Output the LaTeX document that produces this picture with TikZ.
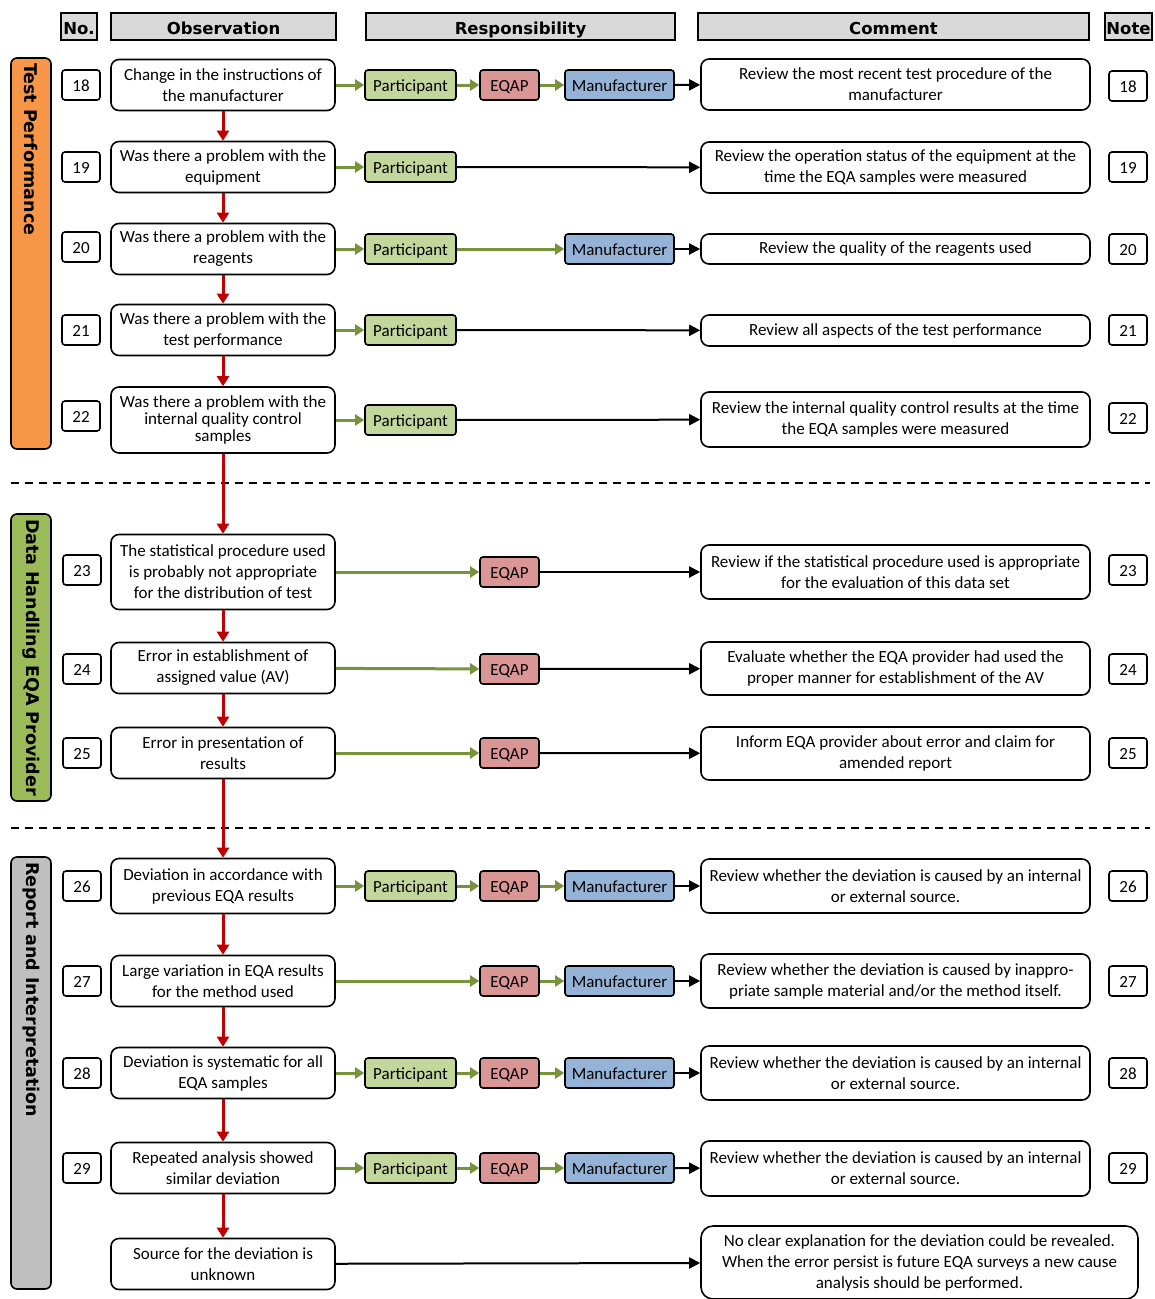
\documentclass[tikz,border=0pt]{standalone}
\usepackage{fontspec}
\setmainfont{Carlito}
\newfontfamily\headfont{DejaVu Sans}
\usetikzlibrary{arrows.meta,positioning}
\definecolor{hgray}{RGB}{217,217,217}
\definecolor{qorange}{RGB}{247,150,70}
\definecolor{qside}{RGB}{155,187,89}
\definecolor{qgray}{RGB}{191,191,191}
\definecolor{qpart}{RGB}{195,214,155}
\definecolor{qeqap}{RGB}{218,150,148}
\definecolor{qmanu}{RGB}{149,179,215}
\definecolor{qred}{RGB}{192,0,0}
\definecolor{qgrn}{RGB}{119,147,60}

\begin{document}
\begin{tikzpicture}[x=1pt, y=-1pt,
    head/.style={draw, fill=hgray, line width=2pt, minimum height=27, inner sep=0pt,
                 text height=15pt, text depth=0pt,
                 font=\headfont\bfseries\fontsize{16.5}{18}\selectfont},
    side/.style={draw, rounded corners=6pt, line width=1.6pt, rotate=-90, minimum height=40,
                 inner sep=5pt, align=left, font=\headfont\bfseries\fontsize{17.5}{20}\selectfont},
    obs/.style={draw, rounded corners=8pt, line width=1.6pt, minimum width=224, minimum height=51,
                align=center, inner sep=2pt, font=\fontsize{17}{21}\selectfont},
    com/.style={obs, minimum width=389},
    num/.style={draw, rounded corners=3pt, line width=1.6pt, minimum width=38, minimum height=30,
                inner sep=0pt, text height=12pt, text depth=0pt, font=\fontsize{17}{18}\selectfont},
    resp/.style={draw, rounded corners=3pt, line width=1.6pt, minimum height=30, inner sep=0pt,
                 text height=12pt, text depth=0pt, font=\fontsize{17}{18}\selectfont},
    part/.style={resp, fill=qpart, minimum width=91},
    eqap/.style={resp, fill=qeqap, minimum width=59},
    manu/.style={resp, fill=qmanu, minimum width=109},
    redarr/.style={-{Triangle[length=10pt,width=12pt]}, line width=3pt, draw=qred},
    grnarr/.style={-{Triangle[length=9pt,width=11pt]}, line width=3pt, draw=qgrn},
    blkarr/.style={-{Triangle[length=11pt,width=11pt]}, line width=2pt},
    sep/.style={line width=2pt, dash pattern=on 8pt off 6pt}
]
\useasboundingbox (0,0) rectangle (1155,1299);

% headers
\node[head, minimum width=36] (hno) at (79,26.5) {No.};
\node[head, minimum width=225] (hobs) at (223.5,26.5) {Observation};
\node[head, minimum width=309] (hresp) at (520.5,26.5) {Responsibility};
\node[head, minimum width=391] (hcom) at (893.5,26.5) {Comment};
\node[head, minimum width=47] (hnote) at (1128.5,26.5) {Note};

% side bars
\node[side, fill=qorange, text width=381] (test) at (31,253.5) {Test Performance};
\node[side, fill=qside, text width=277] (data) at (31,657.5) {Data Handling EQA Provider};
\node[side, fill=qgray, text width=422] (report) at (31,1073) {Report and Interpretation};

\draw[sep] (11,483) -- (1150,483);
\draw[sep] (11,828) -- (1150,828);

% observations
\node[obs] (obs18) at (223,85) {Change in the instructions of\\the manufacturer};
\node[obs] (obs19) at (223,167) {Was there a problem with the\\equipment};
\node[obs] (obs20) at (223,249) {Was there a problem with the\\reagents};
\node[obs] (obs21) at (223,330) {Was there a problem with the\\test performance};
\node[obs, minimum height=66] (obs22) at (223,420)
    {Was there a problem with the\\[-4pt]internal quality control\\[-4pt]samples};
\node[obs, minimum height=75] (obs23) at (223,572)
    {The statistical procedure used\\is probably not appropriate\\for the distribution of test};
\node[obs] (obs24) at (223,668) {Error in establishment of\\assigned value (AV)};
\node[obs] (obs25) at (223,753) {Error in presentation of\\results};
\node[obs, minimum height=55] (obs26) at (223,886) {Deviation in accordance with\\previous EQA results};
\node[obs] (obs27) at (223,981) {Large variation in EQA results\\for the method used};
\node[obs] (obs28) at (223,1073) {Deviation is systematic for all\\EQA samples};
\node[obs] (obs29) at (223,1168) {Repeated analysis showed\\similar deviation};
\node[obs] (obs30) at (223,1264) {Source for the deviation is\\unknown};

% numbers
\node[num] (num18) at (81,85) {18};
\node[num] (num19) at (81,167) {19};
\node[num] (num20) at (81,247) {20};
\node[num] (num21) at (81,330) {21};
\node[num] (num22) at (81,416) {22};
\node[num] (num23) at (82,570) {23};
\node[num] (num24) at (82,669) {24};
\node[num] (num25) at (82,753) {25};
\node[num] (num26) at (82,886) {26};
\node[num] (num27) at (82,981) {27};
\node[num] (num28) at (82,1073) {28};
\node[num] (num29) at (82,1168) {29};

\node[num] (note18) at (1128,86) {18};
\node[num] (note19) at (1128,167) {19};
\node[num] (note20) at (1128,249) {20};
\node[num] (note21) at (1128,330) {21};
\node[num] (note22) at (1128,418) {22};
\node[num] (note23) at (1128,570) {23};
\node[num] (note24) at (1128,669) {24};
\node[num] (note25) at (1128,753) {25};
\node[num] (note26) at (1128,886) {26};
\node[num] (note27) at (1128,981) {27};
\node[num] (note28) at (1128,1073) {28};
\node[num] (note29) at (1128,1168) {29};

% responsibility
\node[part] (part18) at (410.5,85) {Participant};
\node[eqap] (eqap18) at (509.5,85) {EQAP};
\node[manu] (manu18) at (619.5,85) {Manufacturer};
\node[part] (part19) at (410.5,167) {Participant};
\node[part] (part20) at (410.5,249) {Participant};
\node[manu] (manu20) at (619.5,249) {Manufacturer};
\node[part] (part21) at (410.5,330) {Participant};
\node[part] (part22) at (410.5,420) {Participant};
\node[eqap] (eqap23) at (509.5,572) {EQAP};
\node[eqap] (eqap24) at (509.5,669) {EQAP};
\node[eqap] (eqap25) at (509.5,753) {EQAP};
\node[part] (part26) at (410.5,886) {Participant};
\node[eqap] (eqap26) at (509.5,886) {EQAP};
\node[manu] (manu26) at (619.5,886) {Manufacturer};
\node[eqap] (eqap27) at (509.5,981) {EQAP};
\node[manu] (manu27) at (619.5,981) {Manufacturer};
\node[part] (part28) at (410.5,1073) {Participant};
\node[eqap] (eqap28) at (509.5,1073) {EQAP};
\node[manu] (manu28) at (619.5,1073) {Manufacturer};
\node[part] (part29) at (410.5,1168) {Participant};
\node[eqap] (eqap29) at (509.5,1168) {EQAP};
\node[manu] (manu29) at (619.5,1168) {Manufacturer};

% comments
\node[com] (com18) at (895.5,84.5) {Review the most recent test procedure of the\\manufacturer};
\node[com] (com19) at (895.5,167.5) {Review the operation status of the equipment at the\\time the EQA samples were measured};
\node[com, minimum height=30] (com20) at (895.5,249) {Review the quality of the reagents used};
\node[com, minimum height=31] (com21) at (895.5,330.5) {Review all aspects of the test performance};
\node[com, minimum height=55] (com22) at (895.5,419.5) {Review the internal quality control results at the time\\the EQA samples were measured};
\node[com, minimum height=54] (com23) at (895.5,572) {Review if the statistical procedure used is appropriate\\for the evaluation of this data set};
\node[com, minimum height=53] (com24) at (895.5,668.5) {Evaluate whether the EQA provider had used the\\proper manner for establishment of the AV};
\node[com, minimum height=53] (com25) at (895.5,753.5) {Inform EQA provider about error and claim for\\amended report};
\node[com, minimum height=54] (com26) at (895.5,886) {Review whether the deviation is caused by an internal\\or external source.};
\node[com, minimum height=54] (com27) at (895.5,981) {Review whether the deviation is caused by inappro-\\priate sample material and/or the method itself.};
\node[com, minimum height=54] (com28) at (895.5,1073) {Review whether the deviation is caused by an internal\\or external source.};
\node[com, minimum height=55] (com29) at (895.5,1168.5) {Review whether the deviation is caused by an internal\\or external source.};
\node[com, minimum width=437, minimum height=73, rounded corners=12pt] (com30) at (919.5,1262.5)
    {No clear explanation for the deviation could be revealed.\\When the error persist is future EQA surveys a new cause\\analysis should be performed.};

% red flow
\draw[redarr] (obs18) -- (obs19);
\draw[redarr] (obs19) -- (obs20);
\draw[redarr] (obs20) -- (obs21);
\draw[redarr] (obs21) -- (obs22);
\draw[redarr] (obs22) -- (obs23);
\draw[redarr] (obs23) -- (obs24);
\draw[redarr] (obs24) -- (obs25);
\draw[redarr] (obs25) -- (obs26);
\draw[redarr] (obs26) -- (obs27);
\draw[redarr] (obs27) -- (obs28);
\draw[redarr] (obs28) -- (obs29);
\draw[redarr] (obs29) -- (obs30);

% responsibility chains
\draw[grnarr] (obs18) -- (part18);
\draw[grnarr] (part18) -- (eqap18);
\draw[grnarr] (eqap18) -- (manu18);
\draw[blkarr] (manu18) -- (com18);

\draw[grnarr] (obs19) -- (part19);
\draw[blkarr] (part19) -- (com19);

\draw[grnarr] (obs20) -- (part20);
\draw[grnarr] (part20) -- (manu20);
\draw[blkarr] (manu20) -- (com20);

\draw[grnarr] (obs21) -- (part21);
\draw[blkarr] (part21) -- (com21);

\draw[grnarr] (obs22) -- (part22);
\draw[blkarr] (part22) -- (com22);

\draw[grnarr] (obs23) -- (eqap23);
\draw[blkarr] (eqap23) -- (com23);

\draw[grnarr] (obs24) -- (eqap24);
\draw[blkarr] (eqap24) -- (com24);

\draw[grnarr] (obs25) -- (eqap25);
\draw[blkarr] (eqap25) -- (com25);

\draw[grnarr] (obs26) -- (part26);
\draw[grnarr] (part26) -- (eqap26);
\draw[grnarr] (eqap26) -- (manu26);
\draw[blkarr] (manu26) -- (com26);

\draw[grnarr] (obs27) -- (eqap27);
\draw[grnarr] (eqap27) -- (manu27);
\draw[blkarr] (manu27) -- (com27);

\draw[grnarr] (obs28) -- (part28);
\draw[grnarr] (part28) -- (eqap28);
\draw[grnarr] (eqap28) -- (manu28);
\draw[blkarr] (manu28) -- (com28);

\draw[grnarr] (obs29) -- (part29);
\draw[grnarr] (part29) -- (eqap29);
\draw[grnarr] (eqap29) -- (manu29);
\draw[blkarr] (manu29) -- (com29);

\draw[blkarr] (obs30) -- (com30);

\end{tikzpicture}
\end{document}
